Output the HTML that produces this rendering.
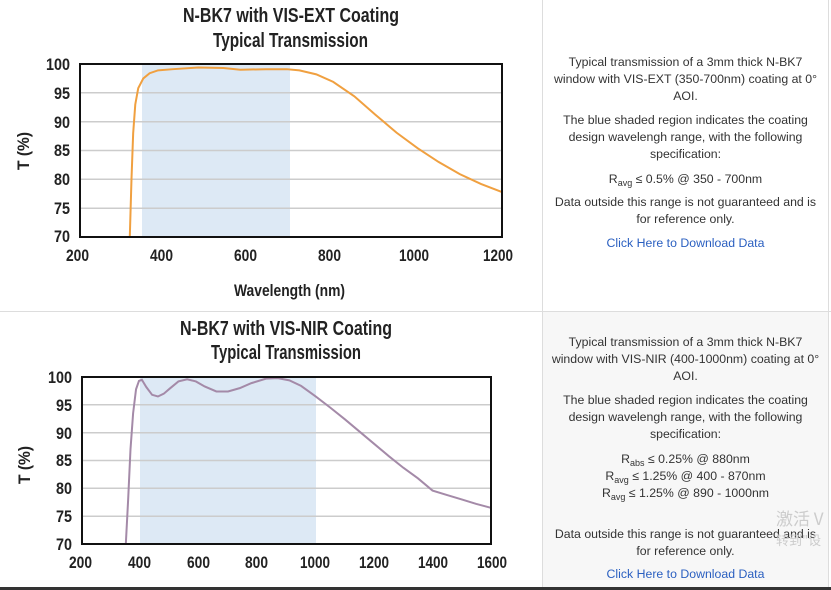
<!DOCTYPE html>
<html><head><meta charset="utf-8"><style>
body{margin:0;width:831px;height:590px;overflow:hidden;background:#fff;position:relative;font-family:"Liberation Sans",sans-serif}
.r{position:absolute;left:543px;width:285px;text-align:center;font-size:12.3px;color:#333;line-height:17px;white-space:nowrap}
.a{color:#2a5fc0}
sub{font-size:9px;vertical-align:-3px;line-height:0}
</style></head><body>
<div style="position:absolute;left:543px;top:312px;width:285px;height:275px;background:#f7f7f7"></div>
<div style="position:absolute;left:0;top:311px;width:831px;height:1px;background:#ddd"></div>
<div style="position:absolute;left:542px;top:0;width:1px;height:590px;background:#ddd"></div>
<div style="position:absolute;left:828px;top:0;width:1px;height:590px;background:#ddd"></div>
<div style="position:absolute;left:0;top:587px;width:831px;height:3px;background:#333"></div>
<svg width="542" height="587" style="position:absolute;left:0;top:0" font-family="Liberation Sans,sans-serif" font-weight="bold">
<g fill="#222" font-size="20">
<text x="183" y="22" textLength="216" lengthAdjust="spacingAndGlyphs">N-BK7 with VIS-EXT Coating</text>
<text x="213" y="47" textLength="155" lengthAdjust="spacingAndGlyphs">Typical Transmission</text>
<text x="180" y="335" textLength="212" lengthAdjust="spacingAndGlyphs">N-BK7 with VIS-NIR Coating</text>
<text x="211" y="359" textLength="150" lengthAdjust="spacingAndGlyphs">Typical Transmission</text>
</g>
<!-- chart 1 -->
<rect x="142" y="64" width="148" height="173" fill="#dde9f5"/>
<g stroke="#ccc" stroke-width="1.5">
<line x1="80" x2="502" y1="92.8" y2="92.8"/><line x1="80" x2="502" y1="121.7" y2="121.7"/><line x1="80" x2="502" y1="150.5" y2="150.5"/><line x1="80" x2="502" y1="179.3" y2="179.3"/><line x1="80" x2="502" y1="208.2" y2="208.2"/>
</g>
<g transform="translate(80,64) scale(0.422,-5.767) translate(-200,-100)">
<polyline fill="none" stroke="#f0a040" stroke-width="2" vector-effect="non-scaling-stroke" points="318,70 322,80 326,88 331,93 338,95.8 350,97.5 365,98.4 385,98.9 420,99.1 480,99.4 540,99.3 580,99 640,99.1 690,99.1 720,98.9 760,98.2 800,96.9 850,94.4 900,91.2 950,88.1 1000,85.4 1050,83 1100,80.9 1150,79.2 1200,77.8"/>
</g>
<rect x="80" y="64" width="422" height="173" fill="none" stroke="#111" stroke-width="2"/>
<g fill="#222" font-size="17">
<text x="46" y="70" textLength="24" lengthAdjust="spacingAndGlyphs">100</text>
<text x="54" y="99" textLength="16" lengthAdjust="spacingAndGlyphs">95</text>
<text x="54" y="128" textLength="16" lengthAdjust="spacingAndGlyphs">90</text>
<text x="54" y="156" textLength="16" lengthAdjust="spacingAndGlyphs">85</text>
<text x="54" y="185" textLength="16" lengthAdjust="spacingAndGlyphs">80</text>
<text x="54" y="214" textLength="16" lengthAdjust="spacingAndGlyphs">75</text>
<text x="54" y="242" textLength="16" lengthAdjust="spacingAndGlyphs">70</text>
</g>
<g fill="#222" font-size="17">
<text x="66" y="261" textLength="23" lengthAdjust="spacingAndGlyphs">200</text>
<text x="150" y="261" textLength="23" lengthAdjust="spacingAndGlyphs">400</text>
<text x="234" y="261" textLength="23" lengthAdjust="spacingAndGlyphs">600</text>
<text x="318" y="261" textLength="23" lengthAdjust="spacingAndGlyphs">800</text>
<text x="399" y="261" textLength="30" lengthAdjust="spacingAndGlyphs">1000</text>
<text x="483" y="261" textLength="30" lengthAdjust="spacingAndGlyphs">1200</text>
<text x="234" y="296" textLength="111" lengthAdjust="spacingAndGlyphs">Wavelength (nm)</text>
<text transform="translate(29,170) rotate(-90)" textLength="38" lengthAdjust="spacingAndGlyphs">T (%)</text>
</g>
<!-- chart 2 -->
<rect x="140" y="377" width="176" height="167" fill="#dde9f5"/>
<g stroke="#ccc" stroke-width="1.5">
<line x1="82" x2="491" y1="404.8" y2="404.8"/><line x1="82" x2="491" y1="432.7" y2="432.7"/><line x1="82" x2="491" y1="460.5" y2="460.5"/><line x1="82" x2="491" y1="488.3" y2="488.3"/><line x1="82" x2="491" y1="516.2" y2="516.2"/>
</g>
<g transform="translate(82,377) scale(0.2921,-5.567) translate(-200,-100)">
<polyline fill="none" stroke="#a48aa8" stroke-width="2" vector-effect="non-scaling-stroke" points="350,70 358,78 366,87 375,93.5 385,97.8 395,99.3 405,99.5 420,98.2 440,96.8 460,96.5 480,97 500,97.9 530,99.2 560,99.6 590,99.2 620,98.3 660,97.4 700,97.4 740,98 780,98.9 830,99.7 870,99.8 910,99.4 950,98.4 1000,96.5 1050,94.5 1100,92.4 1150,90.2 1200,88 1250,85.8 1300,83.7 1350,81.8 1400,79.6 1450,78.8 1500,78 1550,77.2 1600,76.5"/>
</g>
<rect x="82" y="377" width="409" height="167" fill="none" stroke="#111" stroke-width="2"/>
<g fill="#222" font-size="17">
<text x="48" y="383" textLength="24" lengthAdjust="spacingAndGlyphs">100</text>
<text x="56" y="411" textLength="16" lengthAdjust="spacingAndGlyphs">95</text>
<text x="56" y="439" textLength="16" lengthAdjust="spacingAndGlyphs">90</text>
<text x="56" y="466" textLength="16" lengthAdjust="spacingAndGlyphs">85</text>
<text x="56" y="494" textLength="16" lengthAdjust="spacingAndGlyphs">80</text>
<text x="56" y="522" textLength="16" lengthAdjust="spacingAndGlyphs">75</text>
<text x="56" y="550" textLength="16" lengthAdjust="spacingAndGlyphs">70</text>
</g>
<g fill="#222" font-size="17">
<text x="69" y="568" textLength="23" lengthAdjust="spacingAndGlyphs">200</text>
<text x="128" y="568" textLength="23" lengthAdjust="spacingAndGlyphs">400</text>
<text x="187" y="568" textLength="23" lengthAdjust="spacingAndGlyphs">600</text>
<text x="245" y="568" textLength="23" lengthAdjust="spacingAndGlyphs">800</text>
<text x="300" y="568" textLength="30" lengthAdjust="spacingAndGlyphs">1000</text>
<text x="359" y="568" textLength="30" lengthAdjust="spacingAndGlyphs">1200</text>
<text x="418" y="568" textLength="30" lengthAdjust="spacingAndGlyphs">1400</text>
<text x="477" y="568" textLength="30" lengthAdjust="spacingAndGlyphs">1600</text>
<text transform="translate(30,484) rotate(-90)" textLength="38" lengthAdjust="spacingAndGlyphs">T (%)</text>
</g>
</svg>
<div class="r" style="top:54px">Typical transmission of a 3mm thick N-BK7<br>window with VIS-EXT (350-700nm) coating at 0°<br>AOI.</div>
<div class="r" style="top:112px">The blue shaded region indicates the coating<br>design wavelengh range, with the following<br>specification:</div>
<div class="r" style="top:171px">R<sub>avg</sub> ≤ 0.5% @ 350 - 700nm</div>
<div class="r" style="top:194px">Data outside this range is not guaranteed and is<br>for reference only.</div>
<div class="r a" style="top:235px">Click Here to Download Data</div>
<div class="r" style="top:334px">Typical transmission of a 3mm thick N-BK7<br>window with VIS-NIR (400-1000nm) coating at 0°<br>AOI.</div>
<div class="r" style="top:392px">The blue shaded region indicates the coating<br>design wavelengh range, with the following<br>specification:</div>
<div class="r" style="top:451px">R<sub>abs</sub> ≤ 0.25% @ 880nm<br>R<sub>avg</sub> ≤ 1.25% @ 400 - 870nm<br>R<sub>avg</sub> ≤ 1.25% @ 890 - 1000nm</div>
<div class="r" style="top:526px">Data outside this range is not guaranteed and is<br>for reference only.</div>
<div class="r a" style="top:566px">Click Here to Download Data</div>
<div style="position:absolute;left:776px;top:508px;font-size:17px;color:#ccc;font-family:'Noto Sans CJK SC',sans-serif;line-height:20px">激活 V<br><span style="font-size:13px">转到"设</span></div>
</body></html>
